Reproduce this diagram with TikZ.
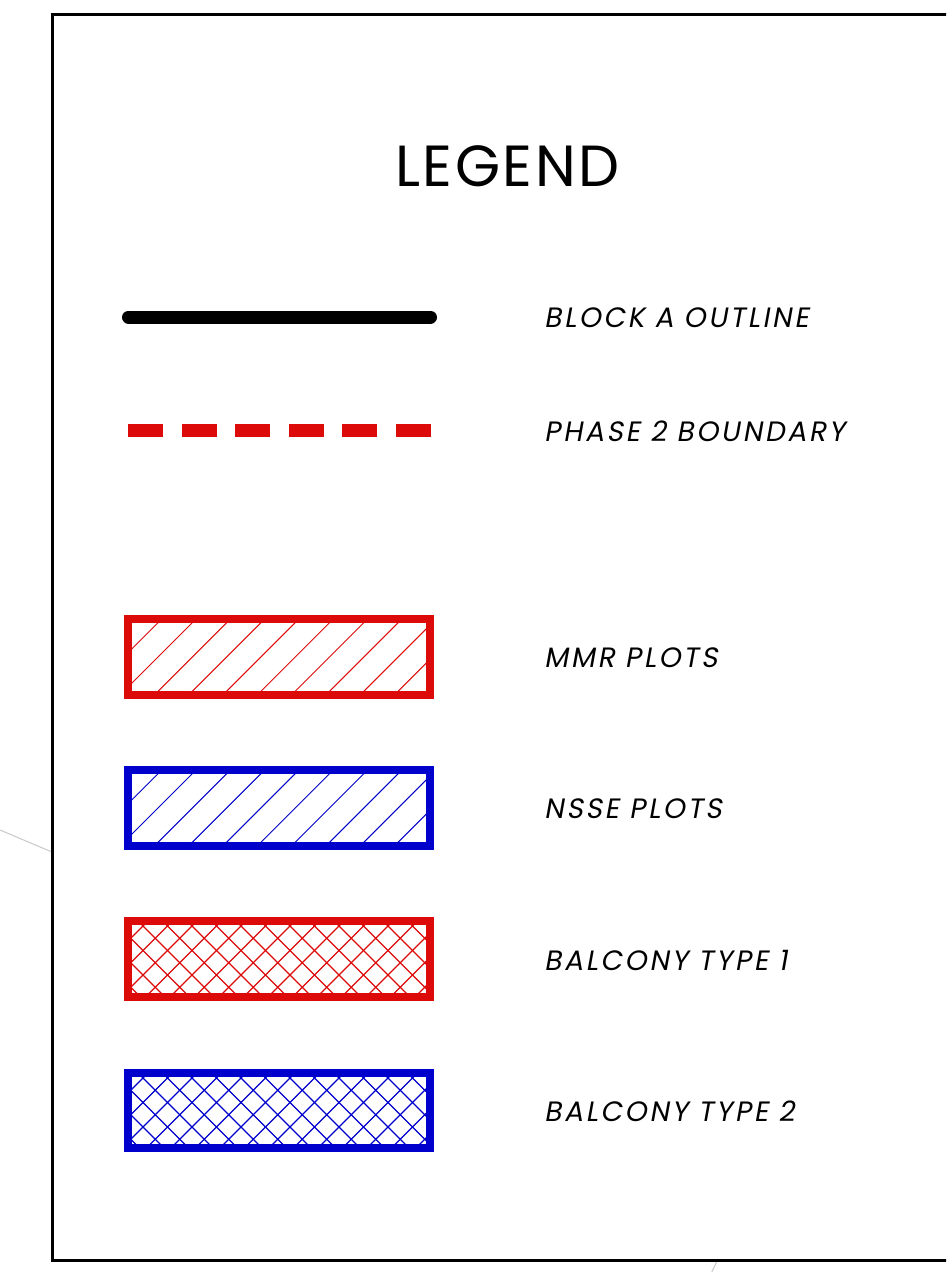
\documentclass[tikz,border=0pt]{standalone}
\usepackage{fontspec}
\newfontfamily\lgfont{Poppins}[LetterSpace=4.5]
\newfontfamily\lgitfont{Poppins}[FakeSlant=0.18, LetterSpace=9.5]
\definecolor{lgred}{RGB}{221,10,10}
\definecolor{lgblue}{RGB}{0,0,204}
\definecolor{lggray}{RGB}{200,200,200}
\begin{document}
\begin{tikzpicture}[x=1pt,y=-1pt,
  lbl/.style={anchor=west,inner sep=0pt,font=\lgitfont\fontsize{28}{30}\selectfont},
  swatch/.style={line width=8},
  hatchline/.style={line width=1},
  crossline/.style={line width=1.3}]
\useasboundingbox (0,0) rectangle (946,1272);
\clip (0,0) rectangle (946,1272);
% faint background lines
\draw[lggray, line width=1] (0,830) -- (52,852);
\draw[lggray, line width=1] (718,1259) -- (708,1280);
% frame
\draw[line width=3] (960,14) -- (52,14) -- (52,1260) -- (960,1260);
% title
\node[inner sep=0pt,font=\lgfont\fontsize{58}{60}\selectfont] (title) at (507.5,166) {LEGEND};
% block A outline
\coordinate (bl1) at (128.5,317);
\coordinate (bl2) at (430.5,317);
\draw[line width=13, line cap=round] (bl1) -- (bl2);
% phase 2 boundary
\coordinate (ph1) at (128,430);
\coordinate (ph2) at (431,430);
\draw[lgred, line width=13, dash pattern=on 35 off 18.6] (ph1) -- (ph2);
% MMR plots
\begin{scope}
\clip (132,623) rectangle (426,691);
\foreach \n in {-3,...,10} \draw[lgred,hatchline] ({196+34.3*\n},619) -- ({196+34.3*\n-80},699);
\end{scope}
\draw[lgred,swatch] (128,619) rectangle (430,695);
% NSSE plots
\begin{scope}
\clip (132,774) rectangle (426,842);
\foreach \n in {-3,...,10} \draw[lgblue,hatchline] ({196+34.3*\n},770) -- ({196+34.3*\n-80},850);
\end{scope}
\draw[lgblue,swatch] (128,770) rectangle (430,846);
% Balcony type 1
\begin{scope}
\clip (132,925) rectangle (426,993);
\foreach \n in {-2,...,16} \draw[lgred,crossline] ({148+24.5*\n},921) -- ({148+24.5*\n-80},1001);
\foreach \n in {-5,...,13} \draw[lgred,crossline] ({138+24.5*\n},921) -- ({138+24.5*\n+80},1001);
\end{scope}
\draw[lgred,swatch] (128,921) rectangle (430,997);
% Balcony type 2
\begin{scope}
\clip (132,1077) rectangle (426,1144);
\foreach \n in {-2,...,16} \draw[lgblue,crossline] ({148+24.5*\n},1073) -- ({148+24.5*\n-80},1153);
\foreach \n in {-5,...,13} \draw[lgblue,crossline] ({138+24.5*\n},1073) -- ({138+24.5*\n+80},1153);
\end{scope}
\draw[lgblue,swatch] (128,1073) rectangle (430,1148);
% labels
\node[lbl] (l1) at (544,318) {BLOCK A OUTLINE};
\node[lbl] (l2) at (544,431) {PHASE 2 BOUNDARY};
\node[lbl] (l3) at (544,658) {MMR PLOTS};
\node[lbl] (l4) at (544,809) {NSSE PLOTS};
\node[lbl] (l5) at (544,960) {BALCONY TYPE 1};
\node[lbl] (l6) at (544,1111) {BALCONY TYPE 2};
\end{tikzpicture}
\end{document}
